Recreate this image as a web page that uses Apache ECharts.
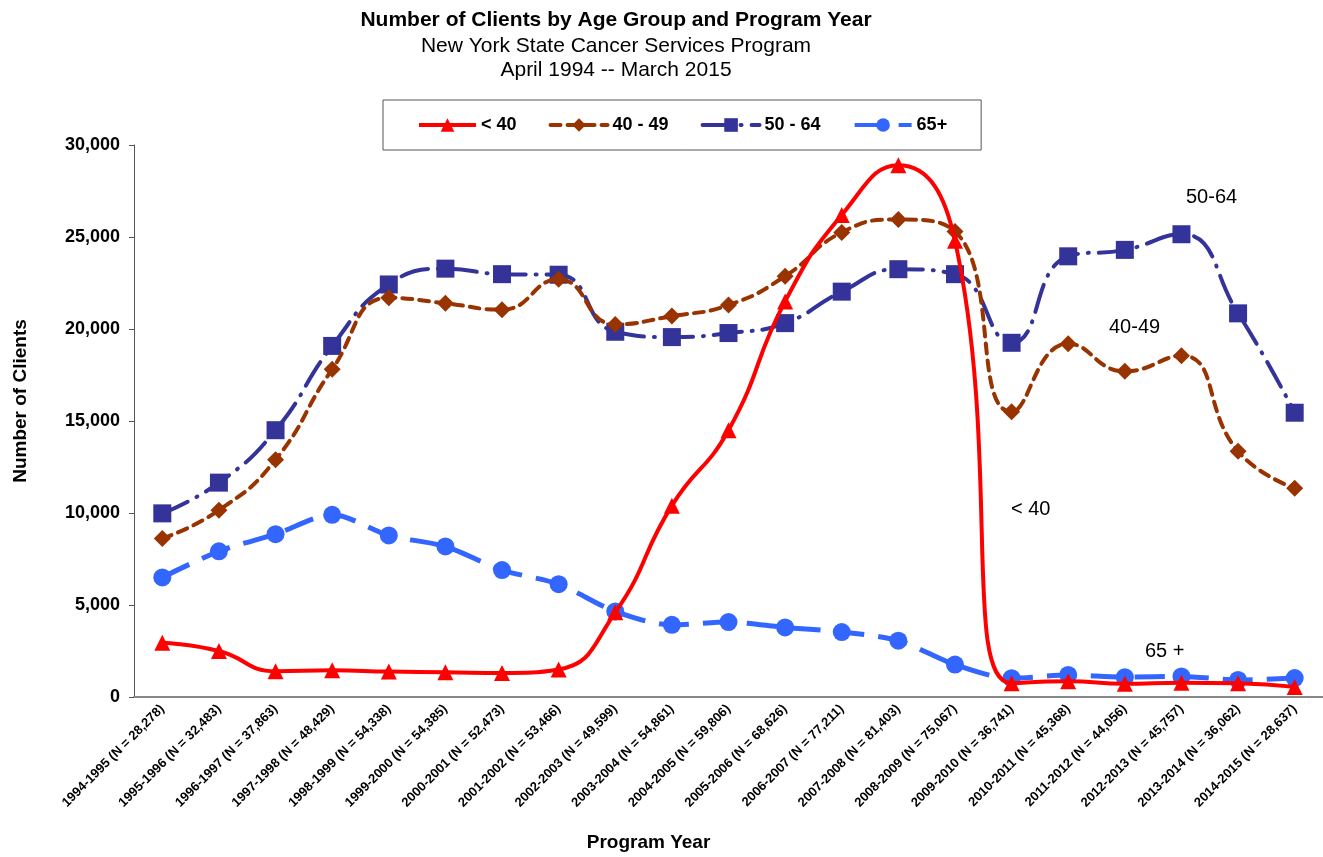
<!DOCTYPE html>
<html>
<head>
<meta charset="utf-8">
<script src="https://cdn.jsdelivr.net/npm/echarts@6/dist/echarts.min.js"></script>
<style>
  html, body { margin: 0; padding: 0; background: #fff; }
  #main { width: 1323px; height: 857px; }
</style>
</head>
<body>
<div id="main"></div>
<script>
// 年度（带人数）
const years = [
  '1994-1995 (N = 28,278)', '1995-1996 (N = 32,483)', '1996-1997 (N = 37,863)',
  '1997-1998 (N = 48,429)', '1998-1999 (N = 54,338)', '1999-2000 (N = 54,385)',
  '2000-2001 (N = 52,473)', '2001-2002 (N = 53,466)', '2002-2003 (N = 49,599)',
  '2003-2004 (N = 54,861)', '2004-2005 (N = 59,806)', '2005-2006 (N = 68,626)',
  '2006-2007 (N = 77,211)', '2007-2008 (N = 81,403)', '2008-2009 (N = 75,067)',
  '2009-2010 (N = 36,741)', '2010-2011 (N = 45,368)', '2011-2012 (N = 44,056)',
  '2012-2013 (N = 45,757)', '2013-2014 (N = 36,062)', '2014-2015 (N = 28,637)'
];
const seriesNames = ['< 40', '40 - 49', '50 - 64', '65+'];
const under40 = [2950, 2500, 1400, 1450, 1380, 1350, 1300, 1500, 4600, 10400, 14500, 21500, 26200, 28900, 24800, 750, 850, 720, 780, 750, 550];
const age4049 = [8610, 10150, 12900, 17810, 21700, 21400, 21050, 22700, 20250, 20700, 21300, 22870, 25250, 25950, 25300, 15500, 19200, 17700, 18550, 13350, 11350];
const age5064 = [9980, 11650, 14500, 19080, 22420, 23280, 22980, 22950, 19850, 19560, 19780, 20320, 22030, 23250, 22980, 19250, 23950, 24300, 25150, 20850, 15450];
const age65 = [6500, 7920, 8850, 9900, 8780, 8180, 6900, 6130, 4650, 3920, 4070, 3780, 3530, 3060, 1760, 1020, 1200, 1080, 1120, 930, 1030];
const yTicks = [0, 5000, 10000, 15000, 20000, 25000, 30000];

const font = 'Liberation Sans, Arial, sans-serif';
let myChart = echarts.init(document.getElementById('main'));

let option = {
    backgroundColor: '#fff',
    title: [{
        text: 'Number of Clients by Age Group and Program Year',
        left: 611, top: 5, textAlign: 'center',
        textStyle: { fontFamily: font, fontSize: 21, fontWeight: 'bold', color: '#000' }
    }, {
        text: 'New York State Cancer Services Program\nApril 1994 -- March 2015',
        left: 611, top: 29, textAlign: 'center',
        textStyle: { fontFamily: font, fontSize: 21, fontWeight: 'normal', color: '#000', lineHeight: 24 }
    }],
    legend: {
        data: seriesNames,
        left: 383, top: 100,
        padding: [16, 34, 16, 34],
        itemGap: 32,
        itemWidth: 57, itemHeight: 17,
        borderColor: '#555', borderWidth: 1,
        lineStyle: { width: 4 },
        textStyle: { fontFamily: font, fontSize: 18, fontWeight: 'bold', color: '#000' }
    },
    grid: { left: 134, right: 0, top: 145, bottom: 158, containLabel: false },
    xAxis: {
        type: 'category',
        data: years,
        boundaryGap: true,
        name: 'Program Year',
        nameLocation: 'middle',
        nameGap: 136,
        nameTextStyle: { fontFamily: font, fontSize: 19, fontWeight: 'bold', color: '#000', padding: [0, 160, 0, 0] },
        axisLine: { lineStyle: { color: '#888', width: 2 } },
        axisTick: { inside: true, length: 6, lineStyle: { color: '#555' } },
        axisLabel: {
            rotate: 45, interval: 0, margin: 10,
            fontFamily: font, fontSize: 13, fontWeight: 'bold', color: '#000'
        },
        splitLine: { show: false }
    },
    yAxis: {
        type: 'value',
        min: 0, max: yTicks[yTicks.length - 1], interval: 5000,
        name: 'Number of Clients',
        nameLocation: 'middle',
        nameGap: 104,
        nameRotate: 90,
        nameTextStyle: { fontFamily: font, fontSize: 19, fontWeight: 'bold', color: '#000', padding: [0, 0, 0, 40] },
        axisLine: { show: true, lineStyle: { color: '#555', width: 1 } },
        axisTick: { show: true, inside: false, length: 5, lineStyle: { color: '#555' } },
        axisLabel: {
            margin: 14,
            fontFamily: font, fontSize: 18, fontWeight: 'bold', color: '#000',
            formatter: function (v) { return v.toLocaleString('en-US'); }
        },
        splitLine: { show: false }
    },
    series: [{
        name: seriesNames[0], type: 'line', data: under40,
        smooth: 0.5,
        symbol: 'triangle', symbolSize: 16,
        itemStyle: { color: '#FF0000' },
        lineStyle: { color: '#FF0000', width: 4, type: 'solid' },
        z: 5
    }, {
        name: seriesNames[1], type: 'line', data: age4049,
        smooth: 0.5,
        symbol: 'diamond', symbolSize: 17,
        itemStyle: { color: '#993300' },
        lineStyle: { color: '#993300', width: 4, type: [10, 7], cap: 'round' },
        z: 4
    }, {
        name: seriesNames[2], type: 'line', data: age5064,
        smooth: 0.5,
        symbol: 'rect', symbolSize: 18,
        itemStyle: { color: '#333399' },
        lineStyle: { color: '#333399', width: 4, type: [28, 10, 1, 10], cap: 'round' },
        z: 3
    }, {
        name: seriesNames[3], type: 'line', data: age65,
        smooth: 0.3,
        symbol: 'circle', symbolSize: 18,
        itemStyle: { color: '#3366FF' },
        lineStyle: { color: '#3366FF', width: 5, type: [30, 14] },
        z: 2
    }],
    graphic: [
        { type: 'text', left: 1186, top: 187, style: { text: '50-64', font: '20px ' + font, fill: '#000' } },
        { type: 'text', left: 1109, top: 317, style: { text: '40-49', font: '20px ' + font, fill: '#000' } },
        { type: 'text', left: 1011, top: 499, style: { text: '< 40', font: '20px ' + font, fill: '#000' } },
        { type: 'text', left: 1145, top: 641, style: { text: '65 +', font: '20px ' + font, fill: '#000' } }
    ]
};
myChart.setOption(option);
window.addEventListener('resize', function () {
    setTimeout(function () {
        myChart.resize();
    }, 100);
});
</script>
</body>
</html>
